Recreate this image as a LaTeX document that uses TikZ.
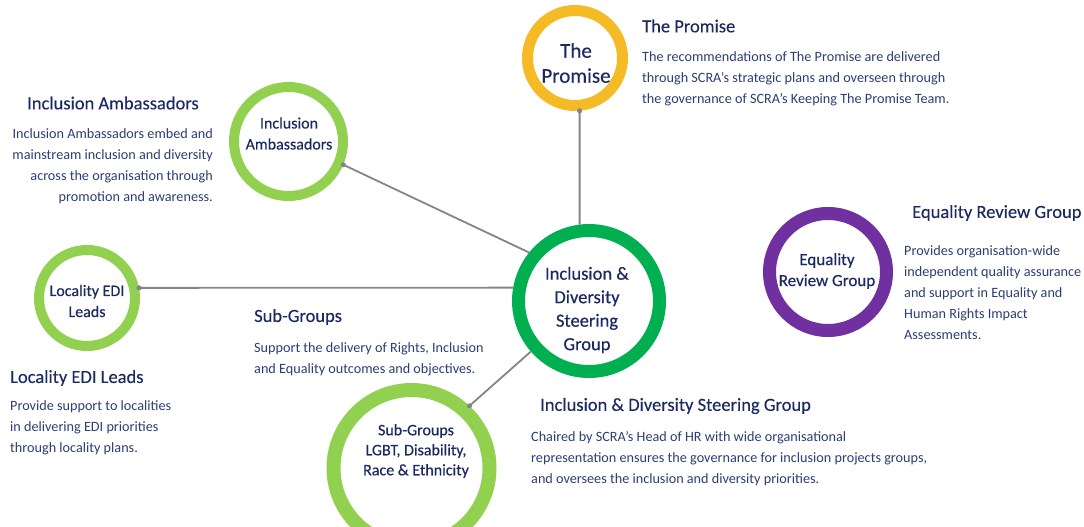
\documentclass[tikz,border=0pt]{standalone}
\usepackage{fontspec}
\setmainfont{Carlito}
\definecolor{navy}{HTML}{1B2A62}
\definecolor{bodyblue}{HTML}{2B3E76}
\definecolor{mgreen}{HTML}{00B050}
\definecolor{lgreen}{HTML}{92D050}
\definecolor{gold}{HTML}{F5BB27}
\definecolor{violet}{HTML}{7030A0}
\definecolor{linkgray}{HTML}{858585}
\newcommand{\fsz}[2]{\fontsize{#1}{#2}\selectfont}
\newcommand{\heavy}{\addfontfeature{FakeBold=0.4}}
\begin{document}
\begin{tikzpicture}[x=1pt,y=-1pt,
  ring/.style={shape=circle,draw=#1,fill=white,inner sep=0pt},
  tag/.style={text=navy,align=center,inner sep=0pt},
  head/.style={anchor=west,inner sep=0pt,text=navy,font=\fsz{18.5}{22}\addfontfeature{FakeBold=0.2}},
  blurb/.style={anchor=north west,inner sep=0pt,text=bodyblue,align=left,font=\fsz{14.2}{21}},
  link/.style={draw=linkgray,line width=1.8pt}]
\clip (0,0) rectangle (1084,527);

% circles
\node[ring=mgreen,line width=13pt,minimum size=141pt] (steer) at (589,301) {};
\node[ring=gold,line width=11pt,minimum size=95pt] (promise) at (575,58) {};
\node[ring=lgreen,line width=10pt,minimum size=109pt] (amb) at (288.5,141.5) {};
\node[ring=lgreen,line width=10pt,minimum size=96pt] (loc) at (87,298) {};
\node[ring=lgreen,line width=14pt,minimum size=156pt] (sub) at (411.5,468) {};
\node[ring=violet,line width=13pt,minimum size=117pt] (eq) at (828,272) {};

% circle labels
\node[tag,font=\fsz{18.5}{23.5}\heavy] (steertxt) at (587,310) {Inclusion \&\\Diversity\\Steering\\Group};
\node[tag,font=\fsz{21}{25}\heavy] (promisetxt) at (576,63) {The\\Promise};
\node[tag,font=\fsz{16}{21}\heavy] (ambtxt) at (289,133.5) {Inclusion\\Ambassadors};
\node[tag,font=\fsz{16}{21}\heavy] (loctxt) at (87,301) {Locality EDI\\Leads};
\node[tag,font=\fsz{16}{20}\heavy] (subtxt) at (416,451) {Sub-Groups\\LGBT, Disability,\\Race \& Ethnicity};
\node[tag,font=\fsz{17}{21}\heavy] (eqtxt) at (827,271) {Equality\\Review Group};

% spokes into the steering group
\draw[link] (promise.-85) -- (steer.97);
\draw[link] (amb.-23) -- (steer.141);
\draw[link] (loc.11) -- (steer.170);
\draw[link] (sub.47) -- (steer.-139);
\foreach \p in {promise.-85,amb.-23,loc.11,sub.47}
  \fill[linkgray] (\p) circle (2.6pt);

% headings and descriptions
\node[head] (ambH) at (27,103) {Inclusion Ambassadors};
\node[blurb,anchor=north east,align=right] (ambB) at (213,128.5) {Inclusion Ambassadors embed and\\mainstream inclusion and diversity\\across the organisation through\\promotion and awareness.};

\node[head] (promH) at (642,26) {The Promise};
\node[blurb] (promB) at (642,51.5) {The recommendations of The Promise are delivered\\through SCRA’s strategic plans and overseen through\\the governance of SCRA’s Keeping The Promise Team.};

\node[head] (eqH) at (912,213) {Equality Review Group};
\node[blurb] (eqB) at (904,245.5) {Provides organisation-wide\\independent quality assurance\\and support in Equality and\\Human Rights Impact\\Assessments.};

\node[head] (locH) at (10,378) {Locality EDI Leads};
\node[blurb] (locB) at (10,400.5) {Provide support to localities\\in delivering EDI priorities\\through locality plans.};

\node[head] (subH) at (254,317) {Sub-Groups};
\node[blurb] (subB) at (254,342.5) {Support the delivery of Rights, Inclusion\\and Equality outcomes and objectives.};

\node[head] (steerH) at (540,406) {Inclusion \& Diversity Steering Group};
\node[blurb] (steerB) at (531,431) {Chaired by SCRA’s Head of HR with wide organisational\\representation ensures the governance for inclusion projects groups,\\and oversees the inclusion and diversity priorities.};
\end{tikzpicture}
\end{document}
